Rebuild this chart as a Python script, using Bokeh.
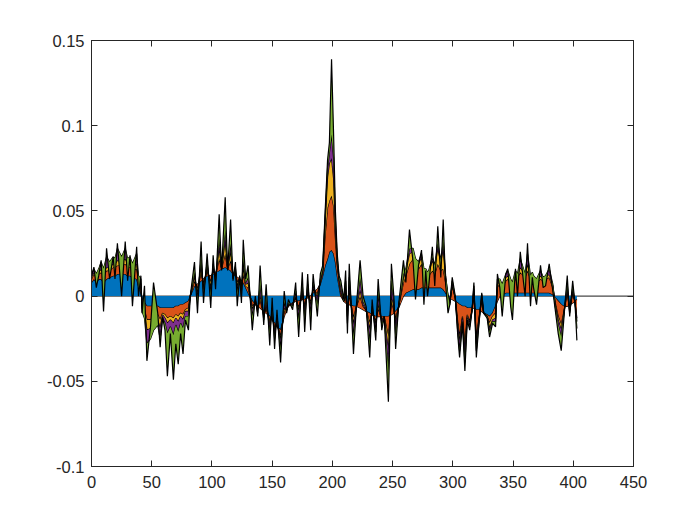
import numpy as np
from bokeh.plotting import figure
from bokeh.models import LinearAxis, Range1d, FixedTicker, Span
from bokeh.embed import file_html
from bokeh.resources import INLINE

x = [0, 2, 4, 6, 8, 10, 12.5, 15, 18, 19.5, 21.5, 25, 28, 30, 32, 34, 37.5, 39, 41,
     42, 44, 46, 49, 51.5, 55, 57, 59, 61, 63, 65.5, 68, 70, 72, 74, 76, 78, 80.5, 82,
     85.5, 88, 91, 93, 96, 99, 101, 103, 106, 108, 111, 113, 115.5, 117.5, 119.5, 121, 123, 124.5, 126, 128, 130,
     133.5, 136, 138, 140, 143, 145, 148, 150, 152, 154, 157, 160, 162, 163.5, 167, 169.5, 172, 175, 177, 179.5, 182, 184, 187.5, 190, 192,
     194, 196, 197.5, 199.3, 201, 202.5, 204, 205.5,
     207, 209.5, 211, 212.5, 214, 217.5, 220, 223, 225.5, 228, 231, 233, 236, 238, 241, 243, 246.5, 249, 251, 252.5, 255,
     259, 261, 264, 267, 269, 271.5, 274, 276, 277.5, 279, 280, 283, 285, 287.5, 290, 292, 294, 296,
     297.5, 299.5, 302, 304, 305.6, 308, 310, 312, 314, 316, 317.5, 319.5, 321.5, 324, 325.6, 328.5, 330.5, 333, 335.5,
     337, 339, 341, 344, 345.6, 348, 349.5, 352, 353.7, 356, 358.7, 360, 362, 364.5, 366, 367, 369.5, 372.8, 375, 377, 380, 383,
     385, 387.5, 390, 392, 395, 397, 399.5, 401.5, 403]

blue = [0.008, 0.010, 0.008, 0.010, 0.010, 0.008, 0.010, 0.011, 0.012, 0.012, 0.013, 0.013, 0.013, 0.012, 0.012, 0.011, 0.010, 0.006, 0.002,
        -0.002, -0.004, -0.006, -0.006, -0.006, -0.006, -0.007, -0.007, -0.007, -0.007, -0.007, -0.007, -0.006, -0.006, -0.005, -0.005, -0.004, -0.003, 0.000,
        0.006, 0.007, 0.009, 0.010, 0.012, 0.012, 0.013, 0.014, 0.015, 0.016, 0.017, 0.016, 0.015, 0.013, 0.012, 0.011, 0.010, 0.009, 0.008, 0.005, 0.002,
        -0.003, -0.005, -0.006, -0.007, -0.009, -0.010, -0.012, -0.014, -0.016, -0.018, -0.020, -0.012, -0.008, -0.006, -0.004, -0.003, -0.003, -0.002, -0.002, -0.001, 0.000, 0.002, 0.004, 0.007, 0.012,
        0.018, 0.022, 0.026, 0.027, 0.025, 0.020, 0.012, 0.006,
        0.000, -0.003, -0.004, -0.005, -0.005, -0.006, -0.006, -0.007, -0.008, -0.009, -0.010, -0.011, -0.012, -0.012, -0.012, -0.012, -0.012, -0.011, -0.010, -0.009, -0.007,
        0.000, 0.002, 0.003, 0.004, 0.004, 0.004, 0.005, 0.005, 0.005, 0.005, 0.005, 0.005, 0.005, 0.005, 0.005, 0.004, 0.002, 0.000,
        -0.001, -0.002, -0.003, -0.004, -0.005, -0.006, -0.006, -0.007, -0.007, -0.007, -0.007, -0.008, -0.008, -0.009, -0.010, -0.011, -0.012, -0.010, -0.006,
        -0.003, 0.000, 0.001, 0.002, 0.002, 0.002, 0.002, 0.002, 0.002, 0.002, 0.002, 0.002, 0.002, 0.002, 0.002, 0.002, 0.002, 0.002, 0.002, 0.002, 0.002, 0.001,
        -0.001, -0.003, -0.005, -0.006, -0.006, -0.005, -0.004, -0.003, -0.002]

orange = [0.002, 0.003, 0.003, 0.003, 0.004, 0.004, 0.005, 0.004, 0.005, 0.005, 0.005, 0.005, 0.006, 0.005, 0.005, 0.004, 0.006, 0.003, 0.003,
          -0.003, -0.004, -0.008, -0.008, -0.006, -0.005, -0.007, -0.003, -0.004, -0.006, -0.005, -0.006, -0.005, -0.006, -0.005, -0.006, -0.004, -0.004, 0.000,
          0.003, -0.003, 0.005, -0.003, 0.003, -0.004, 0.002, -0.002, 0.007, 0.000, 0.008, 0.000, 0.006, -0.001, 0.002, -0.003, 0.000, -0.003, 0.005, 0.001, 0.003,
          -0.003, 0.001, -0.001, 0.005, -0.002, 0.003, -0.003, 0.003, -0.003, 0.002, -0.004, 0.003, 0.000, 0.001, -0.001, 0.002, -0.004, 0.003, -0.004, 0.003, -0.004, 0.002, -0.003, 0.001, 0.002,
          0.018, 0.030, 0.030, 0.032, 0.028, 0.014, 0.006, 0.003,
          0.002, 0.000, 0.005, -0.004, 0.006, -0.007, 0.000, 0.007, 0.002, 0.001, -0.006, 0.002, -0.003, 0.005, -0.002, 0.000, -0.012, 0.008, 0.002, -0.005, 0.001,
          0.008, 0.010, 0.016, 0.018, 0.014, 0.012, 0.014, 0.008, 0.007, 0.006, 0.007, 0.010, 0.008, 0.014, 0.010, 0.012, 0.006, 0.000,
          -0.002, 0.008, 0.002, -0.011, -0.019, -0.006, -0.023, -0.004, -0.008, -0.001, 0.009, -0.017, -0.006, 0.007, 0.000, -0.001, -0.004, -0.002, -0.004,
          0.008, 0.008, 0.004, 0.007, 0.008, 0.006, 0.004, 0.008, 0.009, 0.012, 0.010, 0.009, 0.013, 0.008, 0.008, 0.008, 0.006, 0.008, 0.007, 0.008, 0.009, 0.004,
          -0.003, -0.009, -0.012, -0.004, 0.008, -0.003, 0.006, -0.001, -0.011]

yellow = [0.001, 0.001, 0.001, 0.001, 0.002, 0.002, 0.002, 0.002, 0.002, 0.002, 0.003, 0.002, 0.003, 0.002, 0.002, 0.002, 0.003, 0.001, 0.002,
          -0.002, -0.002, -0.006, -0.005, -0.004, -0.003, -0.005, -0.001, -0.002, -0.003, -0.002, -0.003, -0.002, -0.003, -0.002, -0.003, -0.001, -0.002, 0.000,
          0.003, -0.003, 0.005, -0.003, 0.003, -0.004, 0.002, -0.002, 0.007, 0.000, 0.008, 0.000, 0.006, -0.001, 0.002, -0.003, 0.001, -0.003, 0.005, 0.001, 0.003,
          -0.002, 0.001, -0.001, 0.003, -0.001, 0.002, -0.002, 0.001, -0.002, 0.001, -0.002, 0.002, 0.000, 0.000, 0.000, 0.001, -0.002, 0.002, -0.002, 0.001, -0.002, 0.001, -0.002, 0.001, 0.001,
          0.008, 0.018, 0.022, 0.022, 0.016, 0.006, 0.002, 0.001,
          0.001, 0.000, 0.003, -0.003, 0.004, -0.004, 0.000, 0.004, 0.001, 0.000, -0.004, 0.001, -0.002, 0.003, -0.001, 0.000, -0.008, 0.004, 0.002, -0.003, 0.000,
          0.003, 0.003, 0.006, 0.004, 0.003, 0.003, 0.004, 0.002, 0.003, 0.002, 0.002, 0.006, 0.004, 0.009, 0.005, 0.012, 0.003, 0.000,
          -0.001, 0.001, 0.000, -0.002, -0.003, -0.001, -0.004, -0.001, -0.001, 0.000, 0.002, -0.003, -0.001, 0.001, 0.000, 0.000, -0.003, -0.002, -0.003,
          0.002, 0.001, 0.001, 0.002, 0.002, 0.001, 0.001, 0.002, 0.001, 0.003, 0.002, 0.001, 0.004, 0.001, 0.002, 0.001, 0.001, 0.002, 0.001, 0.001, 0.002, 0.001,
          -0.001, -0.002, -0.003, -0.001, 0.002, -0.001, 0.001, 0.000, -0.002]

purple = [0.001, 0.002, 0.001, 0.002, 0.004, 0.002, 0.006, 0.003, 0.004, 0.003, 0.007, 0.003, 0.006, 0.003, 0.004, 0.002, 0.006, 0.002, 0.003,
          -0.002, -0.003, -0.008, -0.006, -0.004, -0.003, -0.006, -0.002, -0.003, -0.006, -0.004, -0.007, -0.004, -0.006, -0.004, -0.005, -0.003, -0.003, 0.000,
          0.002, -0.003, 0.003, -0.002, 0.002, -0.003, 0.002, -0.001, 0.005, 0.000, 0.006, 0.000, 0.004, -0.001, 0.001, -0.003, 0.000, -0.002, 0.004, 0.001, 0.003,
          -0.004, 0.001, -0.002, 0.006, -0.002, 0.004, -0.004, 0.003, -0.004, 0.003, -0.005, 0.004, -0.001, 0.001, -0.001, 0.003, -0.005, 0.004, -0.005, 0.004, -0.005, 0.003, -0.004, 0.001, 0.001,
          0.003, 0.005, 0.006, 0.014, 0.012, 0.005, 0.002, 0.001,
          0.003, 0.000, 0.005, -0.004, 0.006, -0.007, 0.000, 0.007, 0.002, 0.001, -0.007, 0.002, -0.004, 0.006, -0.002, 0.000, -0.012, 0.008, 0.003, -0.006, 0.000,
          0.002, 0.001, 0.003, 0.002, 0.001, 0.001, 0.002, 0.001, 0.001, 0.001, 0.001, 0.002, 0.001, 0.003, 0.001, 0.004, 0.001, 0.000,
          -0.001, 0.002, 0.000, -0.003, -0.005, -0.002, -0.006, -0.001, -0.002, 0.000, 0.002, -0.004, -0.002, 0.002, 0.000, 0.000, -0.002, -0.001, -0.002,
          0.003, 0.001, 0.001, 0.002, 0.003, 0.001, 0.001, 0.003, 0.001, 0.005, 0.002, 0.001, 0.006, 0.001, 0.002, 0.001, 0.001, 0.003, 0.001, 0.001, 0.003, 0.001,
          -0.001, -0.003, -0.004, -0.001, 0.003, -0.001, 0.002, 0.000, -0.004]

green = [0.000, 0.001, -0.008, -0.004, 0.001, -0.025, 0.005, -0.010, 0.000, -0.012, 0.003, -0.023, 0.004, -0.013, 0.001, -0.025, 0.004, -0.012, 0.002,
         -0.001, 0.019, -0.010, 0.007, 0.028, 0.007, -0.005, 0.001, -0.004, -0.025, -0.004, -0.026, -0.011, -0.019, -0.006, -0.015, -0.002, -0.008, 0.000,
         0.006, -0.008, 0.010, -0.006, 0.005, -0.008, 0.005, -0.005, 0.014, -0.001, 0.019, -0.001, 0.014, -0.001, 0.003, -0.008, 0.001, -0.005, 0.011, 0.002, 0.007,
         -0.008, 0.002, -0.002, 0.011, -0.003, 0.008, -0.008, 0.006, -0.006, 0.004, -0.008, 0.006, -0.001, 0.002, -0.002, 0.005, -0.010, 0.007, -0.008, 0.006, -0.009, 0.005, -0.007, 0.003, 0.002,
         0.003, 0.005, 0.006, 0.044, 0.014, 0.005, 0.003, 0.001,
         0.003, 0.001, 0.006, -0.006, 0.008, -0.010, 0.001, 0.010, 0.003, 0.001, -0.009, 0.004, -0.005, 0.008, -0.003, 0.000, -0.018, 0.010, 0.003, -0.008, 0.001,
         0.008, -0.008, 0.011, -0.008, -0.024, -0.002, 0.002, -0.021, -0.001, -0.014, -0.009, 0.006, -0.012, 0.010, -0.010, 0.013, -0.005, -0.010,
         0.000, 0.002, 0.001, -0.002, -0.004, -0.001, -0.005, -0.001, -0.002, 0.000, 0.002, -0.004, -0.001, 0.001, 0.000, -0.001, -0.003, -0.001, -0.003,
         0.003, -0.005, -0.019, 0.000, 0.001, -0.016, -0.022, 0.001, -0.013, 0.004, -0.008, -0.013, 0.006, -0.018, -0.003, -0.007, -0.015, 0.003, -0.006, -0.006, 0.003, -0.004,
         -0.002, -0.005, -0.008, -0.003, 0.005, -0.002, 0.004, -0.001, -0.007]

x_ticks = [0, 50, 100, 150, 200, 250, 300, 350, 400, 450]
y_ticks = [-0.1, -0.05, 0, 0.05, 0.1, 0.15]
y_tick_labels = ["-0.1", "-0.05", "0", "0.05", "0.1", "0.15"]

colors = ["#0072BD", "#D95319", "#EDB120", "#7E2F8E", "#77AC30"]
series = [blue, orange, yellow, purple, green]

p = figure(width=683, height=506, output_backend="svg", toolbar_location=None,
           x_range=Range1d(0, 450), y_range=Range1d(-0.1, 0.15),
           frame_width=542, frame_height=426,
           min_border_left=91, min_border_right=50, min_border_top=40, min_border_bottom=40)
p.xgrid.visible = False
p.ygrid.visible = False
p.background_fill_color = "white"
p.border_fill_color = "white"
p.outline_line_color = "#262626"
p.outline_line_width = 1

p.add_layout(Span(location=0, dimension="width", line_color="black", line_width=0.9, level="underlay"))

xa = np.array(x)
base = np.zeros(len(x))
for s, c in zip(series, colors):
    top = base + np.array(s)
    p.varea(x=xa, y1=base, y2=top, fill_color=c)
    p.line(xa, top, line_color="black", line_width=1.2)
    base = top

def style(ax):
    ax.axis_line_color = "#262626"
    ax.major_tick_line_color = "#262626"
    ax.minor_tick_line_color = None
    ax.major_tick_in = 6
    ax.major_tick_out = 0
    ax.major_label_text_font = "Liberation Sans"
    ax.major_label_text_font_size = "16.5px"
    ax.major_label_text_color = "#262626"

p.xaxis.ticker = FixedTicker(ticks=x_ticks)
p.yaxis.ticker = FixedTicker(ticks=y_ticks)
style(p.xaxis[0]); style(p.yaxis[0])
p.xaxis.major_label_standoff = 9
p.yaxis.major_label_standoff = 7
p.yaxis.major_label_overrides = dict(zip(y_ticks, y_tick_labels))

top_ax = LinearAxis(ticker=FixedTicker(ticks=x_ticks))
style(top_ax)
top_ax.major_label_overrides = {t: "" for t in x_ticks}
p.add_layout(top_ax, "above")
right_ax = LinearAxis(ticker=FixedTicker(ticks=y_ticks))
style(right_ax)
right_ax.major_label_overrides = {t: "" for t in y_ticks}
p.add_layout(right_ax, "right")

open("out.html", "w").write(file_html(p, INLINE))
